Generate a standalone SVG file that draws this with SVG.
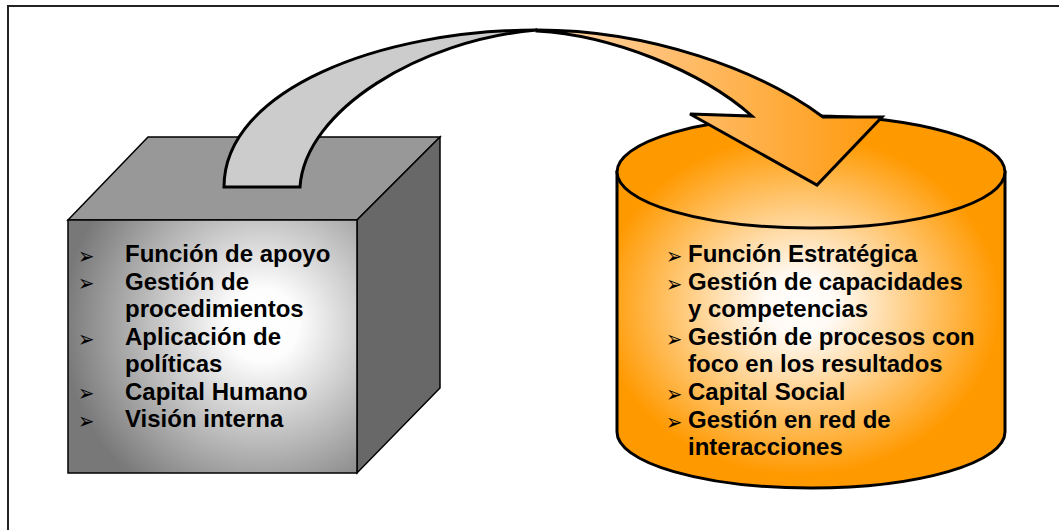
<svg xmlns="http://www.w3.org/2000/svg" width="1059" height="530" viewBox="0 0 1059 530">
<defs>
<radialGradient id="gCube" gradientUnits="userSpaceOnUse" cx="262" cy="325" r="200">
<stop offset="0" stop-color="#ffffff"/>
<stop offset="0.18" stop-color="#fdfdfd"/>
<stop offset="1" stop-color="#787878"/>
</radialGradient>
<radialGradient id="gCyl" gradientUnits="userSpaceOnUse" cx="800" cy="305" r="200" gradientTransform="translate(800,305) scale(1,0.85) translate(-800,-305)">
<stop offset="0" stop-color="#ffffff"/>
<stop offset="0.18" stop-color="#fffaf4"/>
<stop offset="1" stop-color="#ff9900"/>
</radialGradient>
<linearGradient id="gArrow" gradientUnits="userSpaceOnUse" x1="540" y1="0" x2="880" y2="0">
<stop offset="0" stop-color="#ffd6ad"/>
<stop offset="1" stop-color="#ff9a0e"/>
</linearGradient>
<style>
.t{font-family:"Liberation Sans",Arial,sans-serif;font-weight:bold;font-size:24px;fill:#000}
.b{font-family:"DejaVu Sans",sans-serif;font-size:17px;fill:#000}
.edge{stroke:#000;stroke-width:1.5;stroke-linejoin:miter}
.thick{stroke:#000;stroke-width:3;stroke-linejoin:miter}
</style>
</defs>
<rect x="8" y="6" width="1070" height="540" fill="#ffffff" stroke="#222" stroke-width="2"/>

<g id="cube">
<polygon class="edge" points="68,220 148,137 440,137 357,220" fill="#989898"/>
<polygon class="edge" points="357,220 440,137 440,388 357,473" fill="#686868"/>
<rect class="edge" x="68" y="220" width="289" height="253" fill="url(#gCube)"/>
<text class="b" transform="matrix(1.15,0,0,1.35,0,0)"><tspan x="67.83" y="195.56">➢</tspan><tspan x="67.83" y="215.93">➢</tspan><tspan x="67.83" y="256.67">➢</tspan><tspan x="67.83" y="297.41">➢</tspan><tspan x="67.83" y="317.78">➢</tspan></text>
<g class="t">
<text x="125" y="262">Función de apoyo</text>
<text x="125" y="289.5">Gestión de</text>
<text x="125" y="317">procedimientos</text>
<text x="125" y="344.5">Aplicación de</text>
<text x="125" y="372">políticas</text>
<text x="125" y="399.5">Capital Humano</text>
<text x="125" y="427">Visión interna</text>
</g>
</g>

<g id="cylinder">
<path class="thick" d="M617,172 L617,432 A194,56 0 0 0 1005,432 L1005,172 Z" fill="url(#gCyl)" stroke-width="2.5"/>
<ellipse class="thick" cx="811" cy="172" rx="194" ry="56" fill="url(#gCyl)" stroke-width="2.5"/>
<text class="b" transform="matrix(1.15,0,0,1.35,0,0)"><tspan x="579.13" y="195.56">➢</tspan><tspan x="579.13" y="216">➢</tspan><tspan x="579.13" y="256.89">➢</tspan><tspan x="579.13" y="297.78">➢</tspan><tspan x="579.13" y="318.22">➢</tspan></text>
<g class="t">
<text x="688" y="262">Función Estratégica</text>
<text x="688" y="289.6">Gestión de capacidades</text>
<text x="688" y="317.2">y competencias</text>
<text x="688" y="344.8">Gestión de procesos con</text>
<text x="688" y="372.4">foco en los resultados</text>
<text x="688" y="400">Capital Social</text>
<text x="688" y="427.6">Gestión en red de</text>
<text x="688" y="455.2">interacciones</text>
</g>
</g>

<g id="connectors">
<path class="thick" d="M224,187 C224,90 380,30 537,30 C420,40 305,110 300,187 Z" fill="#cccccc"/>
<path class="thick" d="M537,30 C650,30 760,70 823,117 L882,117 L817,185 L690,114 L752,116 C700,70 610,35 537,31 Z" fill="url(#gArrow)"/>
</g>
</svg>
